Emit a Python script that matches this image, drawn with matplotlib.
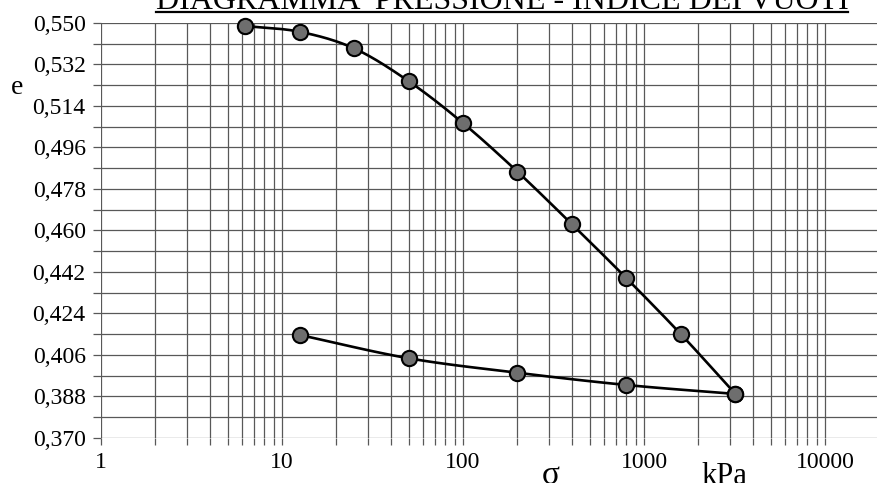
import numpy as np
import matplotlib
matplotlib.use("Agg")
import matplotlib.pyplot as plt
from matplotlib.lines import Line2D

# ---- data ----
load_sigma = [6.25, 12.5, 25, 50, 100, 200, 400, 800, 1600, 3200]
load_e = [0.5487, 0.5462, 0.5390, 0.5248, 0.5066, 0.4855, 0.4627, 0.4393, 0.4150, 0.3891]
unload_sigma = [3200, 800, 200, 50, 12.5]
unload_e = [0.3891, 0.3930, 0.3983, 0.4046, 0.4147]

y_ticks = [0.370, 0.388, 0.406, 0.424, 0.442, 0.460, 0.478, 0.496, 0.514, 0.532, 0.550]
y_ticklabels = ["0,370", "0,388", "0,406", "0,424", "0,442", "0,460",
                "0,478", "0,496", "0,514", "0,532", "0,550"]
x_ticks = [1, 10, 100, 1000, 10000]
x_ticklabels = ["1", "10", "100", "1000", "10000"]

title = "DIAGRAMMA  PRESSIONE - INDICE DEI VUOTI"

plt.rcParams['font.family'] = ['Liberation Serif', 'DejaVu Serif']

W, H = 878, 483
fig = plt.figure(figsize=(W / 100, H / 100), dpi=100)
ax = fig.add_axes([101 / W, 1 - 438 / H, 1 - 101 / W, (438 - 23) / H])
ax.set_xscale('log')
ax.set_xlim(1, 10 ** ((W - 101) / 181))
ax.set_ylim(0.370, 0.550)


def catmull(xs, ys, n=30):
    lx = np.log10(np.asarray(xs, float))
    y = np.asarray(ys, float)
    P = np.column_stack([lx, y])
    P = np.vstack([2 * P[0] - P[1], P, 2 * P[-1] - P[-2]])
    out = []
    for i in range(1, len(P) - 2):
        p0, p1, p2, p3 = P[i - 1], P[i], P[i + 1], P[i + 2]
        t = np.linspace(0, 1, n)[:, None]
        seg = 0.5 * ((2 * p1) + (-p0 + p2) * t + (2 * p0 - 5 * p1 + 4 * p2 - p3) * t ** 2
                     + (-p0 + 3 * p1 - 3 * p2 + p3) * t ** 3)
        out.append(seg)
    S = np.vstack(out)
    return 10 ** S[:, 0], S[:, 1]


gridc = '#585858'
minor_x = [m * 10 ** k for k in range(0, 4) for m in range(2, 10)]
ax.set_xticks(x_ticks)
ax.set_xticks(minor_x, minor=True)
ax.set_xticklabels(x_ticklabels)
ax.xaxis.set_minor_formatter(matplotlib.ticker.NullFormatter())
minor_y = [0.379 + 0.018 * k for k in range(10)]
ax.set_yticks(y_ticks)
ax.set_yticks(minor_y, minor=True)
ax.set_yticklabels(y_ticklabels)
ax.grid(True, which='both', color=gridc, lw=0.9)
ax.tick_params(axis='both', which='both', color=gridc, width=0.9, labelsize=17, pad=5)
ax.tick_params(axis='y', which='both', length=6)
ax.tick_params(axis='x', which='both', length=5)
for s in ax.spines.values():
    s.set_visible(False)
ax.set_axisbelow(True)

for xs, ys in [(load_sigma, load_e), (unload_sigma, unload_e)]:
    cx, cy = catmull(xs, ys)
    ax.plot(cx, cy, color='black', lw=1.9, zorder=3, clip_on=False)
    ax.plot(xs, ys, 'o', ms=11, mfc='#6e6e6e', mec='black', mew=1.5, zorder=4, clip_on=False)

# title with underline
t = fig.text(502 / W, 1 - 9 / H, title, ha='center', va='baseline', fontsize=23)
fig.canvas.draw()
bb = t.get_window_extent()
fig.add_artist(Line2D([bb.x0 / W, bb.x1 / W], [1 - 11.7 / H, 1 - 11.7 / H],
                      color='black', lw=1.6))

fig.text(17 / W, 1 - 88 / H, "e", ha='center', va='center', fontsize=20)
fig.text(551 / W, 1 - 476 / H, "σ", ha='center', va='center', fontsize=24)
fig.text(724 / W, 1 - 484 / H, "kPa", ha='center', va='baseline', fontsize=22)

fig.savefig("out.png", dpi=100)
